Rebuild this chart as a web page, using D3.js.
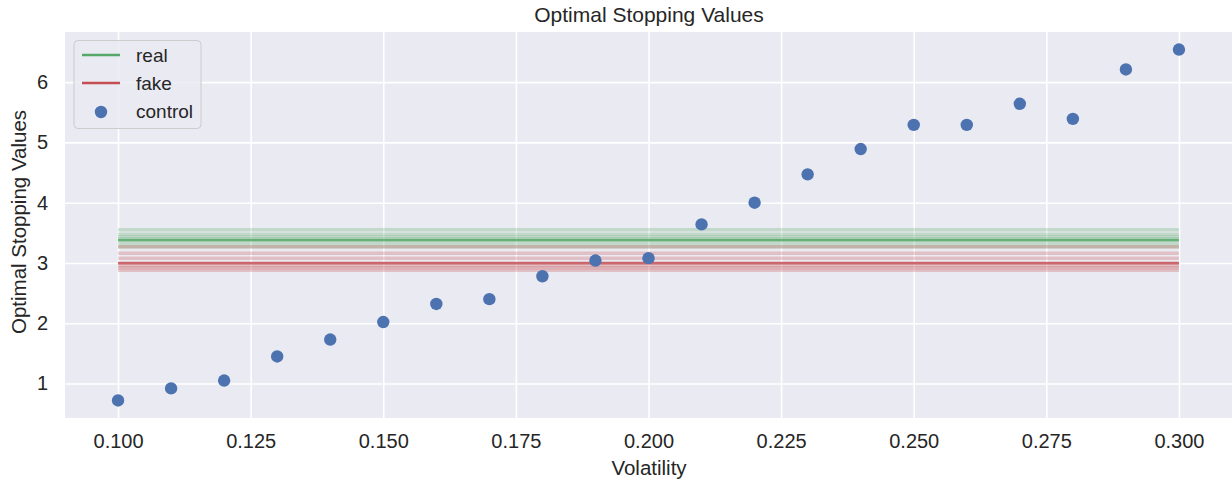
<!DOCTYPE html>
<html>
<head>
<meta charset="utf-8">
<script src="https://cdn.jsdelivr.net/npm/d3@7"></script>
<style>
  body { margin: 0; background: #fff; }
  svg { display: block; font-family: "Liberation Sans", Arial, sans-serif; }
</style>
</head>
<body>
<svg id="chart" width="1232" height="480"></svg>
<script>
// ---- data ----
const volatility = [0.10, 0.11, 0.12, 0.13, 0.14, 0.15, 0.16, 0.17, 0.18, 0.19, 0.20,
                    0.21, 0.22, 0.23, 0.24, 0.25, 0.26, 0.27, 0.28, 0.29, 0.30];
const controlValues = [0.72, 0.92, 1.05, 1.45, 1.73, 2.02, 2.32, 2.40, 2.78, 3.04, 3.08,
                       3.64, 4.00, 4.47, 4.89, 5.29, 5.29, 5.64, 5.39, 6.21, 6.54];
const realMean = 3.376;
const fakeMean = 2.997;
const realRuns = [3.55, 3.475, 3.43, 3.40, 3.327, 3.27];
const fakeRuns = [3.27, 3.16, 3.08, 2.955, 2.92, 2.88];
const xTicks = [0.100, 0.125, 0.150, 0.175, 0.200, 0.225, 0.250, 0.275, 0.300];
const yTicks = [1, 2, 3, 4, 5, 6];
const legendLabels = ["real", "fake", "control"];

const colors = { real: "#55A868", fake: "#C44E52", control: "#4C72B0" };

// ---- layout ----
const svg = d3.select("#chart");
const margin = { left: 65, right: 0, top: 32, bottom: 62 };
const W = 1232, H = 480;
const pw = W - margin.left - margin.right, ph = H - margin.top - margin.bottom;

const xMin = d3.min(volatility), xMax = d3.max(volatility);
const xPad = (xMax - xMin) * 0.05;
const x = d3.scaleLinear().domain([xMin - xPad, xMax + xPad]).range([margin.left, margin.left + pw]);
const yMin = d3.min(controlValues), yMax = d3.max(controlValues);
const yPad = (yMax - yMin) * 0.05;
const y = d3.scaleLinear().domain([yMin - yPad, yMax + yPad]).range([margin.top + ph, margin.top]);

// background
svg.append("rect").attr("x", margin.left).attr("y", margin.top)
  .attr("width", pw).attr("height", ph).attr("fill", "#EAEAF2");

// grid
const xAxis = d3.axisBottom(x).tickValues(xTicks).tickFormat(d3.format(".3f"))
  .tickSize(-ph).tickPadding(16);
const yAxis = d3.axisLeft(y).tickValues(yTicks).tickFormat(d3.format("d"))
  .tickSize(-pw).tickPadding(17);

const gx = svg.append("g").attr("transform", `translate(0,${margin.top + ph})`).call(xAxis);
const gy = svg.append("g").attr("transform", `translate(${margin.left},0)`).call(yAxis);
[gx, gy].forEach(g => {
  g.select(".domain").remove();
  g.selectAll(".tick line").attr("stroke", "#ffffff").attr("stroke-width", 1.6);
  g.selectAll(".tick text").attr("fill", "#262626").style("font-size", "20px");
});

// bands: individual runs
const x0 = x(xMin), x1 = x(xMax);
svg.append("g").selectAll("line").data(realRuns).join("line")
  .attr("x1", x0).attr("x2", x1).attr("y1", d => y(d)).attr("y2", d => y(d))
  .attr("stroke", colors.real).attr("stroke-opacity", 0.28).attr("stroke-width", 3.5);
svg.append("g").selectAll("line").data(fakeRuns).join("line")
  .attr("x1", x0).attr("x2", x1).attr("y1", d => y(d)).attr("y2", d => y(d))
  .attr("stroke", colors.fake).attr("stroke-opacity", 0.28).attr("stroke-width", 3.5);

// main lines
svg.append("line").attr("x1", x0).attr("x2", x1).attr("y1", y(realMean)).attr("y2", y(realMean))
  .attr("stroke", colors.real).attr("stroke-width", 2.6).attr("stroke-opacity", 0.85);
svg.append("line").attr("x1", x0).attr("x2", x1).attr("y1", y(fakeMean)).attr("y2", y(fakeMean))
  .attr("stroke", colors.fake).attr("stroke-width", 2.6).attr("stroke-opacity", 0.85);

// scatter
svg.append("g").selectAll("circle").data(volatility).join("circle")
  .attr("cx", d => x(d)).attr("cy", (d, i) => y(controlValues[i]))
  .attr("r", 6.2).attr("fill", colors.control);

// title & labels
svg.append("text").attr("x", 649).attr("y", 22)
  .attr("text-anchor", "middle").attr("fill", "#262626").style("font-size", "21px")
  .text("Optimal Stopping Values");
svg.append("text").attr("x", 649).attr("y", 475)
  .attr("text-anchor", "middle").attr("fill", "#262626").style("font-size", "20.5px")
  .text("Volatility");
svg.append("text").attr("transform", `translate(26,222) rotate(-90)`)
  .attr("text-anchor", "middle").attr("fill", "#262626").style("font-size", "20.5px")
  .text("Optimal Stopping Values");

// legend
const lg = svg.append("g");
lg.append("rect").attr("x", 74).attr("y", 40.5).attr("width", 127).attr("height", 88)
  .attr("rx", 4).attr("fill", "#EAEAF2").attr("fill-opacity", 0.8)
  .attr("stroke", "#cccccc").attr("stroke-width", 1);
const items = lg.selectAll("g.item").data(legendLabels).join("g").attr("class", "item")
  .attr("transform", (d, i) => `translate(0,${55 + i * 28})`);
items.filter(d => d !== "control").append("line")
  .attr("x1", 82).attr("x2", 120).attr("y1", 0).attr("y2", 0)
  .attr("stroke", d => colors[d]).attr("stroke-width", 2.4);
items.filter(d => d === "control").append("circle")
  .attr("cx", 101).attr("cy", 1).attr("r", 6.2).attr("fill", colors.control);
items.append("text").attr("x", 136).attr("y", 0).attr("dy", "0.35em")
  .attr("fill", "#262626").style("font-size", "19px").text(d => d);
</script>
</body>
</html>
